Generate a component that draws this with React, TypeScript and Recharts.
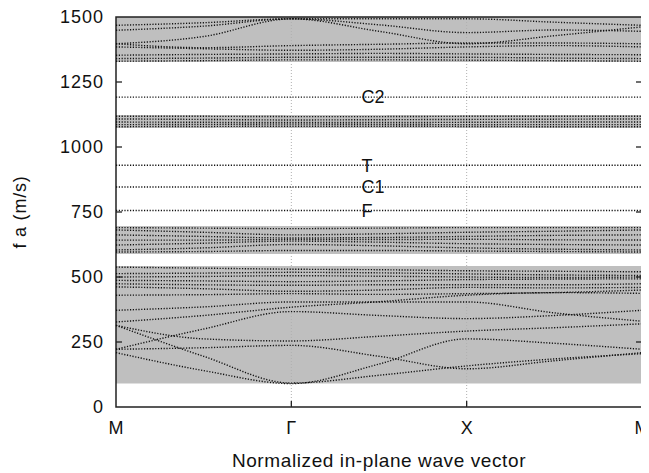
import {
  ComposedChart,
  Line,
  ReferenceArea,
  ReferenceDot,
  ReferenceLine,
  XAxis,
  YAxis,
} from "recharts";

const W = 641;
const H = 465;
const PLOT_LEFT = 108;
const PLOT_RIGHT = 634;
const PLOT_BOTTOM = 399;
const FONT = "'Liberation Sans', Arial, sans-serif";
const DOTS = "1.2 1.6";

// k path: M -> Gamma -> X -> M
const kPoints = [0, 0.5, 1, 1.5, 2, 2.5, 3];
const kTicks = [0, 1, 2, 3];
const kLabels = ["M", "Γ", "X", "M"];
const freqTicks = [0, 250, 500, 750, 1000, 1250, 1500];

// shaded pass bands (m/s)
const passBands = [
  [90, 542],
  [588, 696],
  [1073, 1123],
  [1327, 1500],
];

const lowBranches = [
  [209, 140, 90, 165, 262, 245, 222],
  [314, 195, 92, 122, 158, 185, 205],
  [222, 228, 237, 195, 147, 178, 209],
  [314, 262, 254, 272, 292, 305, 320],
  [222, 300, 367, 352, 340, 352, 372],
  [327, 352, 384, 405, 430, 440, 437],
  [372, 385, 404, 404, 404, 362, 330],
  [430, 432, 436, 433, 436, 440, 450],
  [462, 455, 445, 450, 460, 458, 460],
  [474, 470, 468, 470, 470, 470, 474],
  [487, 485, 482, 485, 490, 492, 493],
  [500, 502, 505, 503, 500, 498, 500],
  [513, 515, 518, 516, 512, 508, 506],
  [538, 534, 530, 528, 524, 522, 520],
];

const midBranches = [
  [690, 688, 686, 688, 690, 690, 690],
  [681, 672, 662, 666, 672, 676, 681],
  [662, 656, 650, 652, 656, 660, 662],
  [642, 642, 644, 644, 645, 643, 642],
  [623, 630, 638, 634, 628, 625, 623],
  [604, 612, 625, 620, 612, 607, 604],
  [596, 598, 602, 602, 600, 598, 596],
];

const upperBranches = [
  [1118, 1118, 1117, 1117, 1118, 1118, 1118],
  [1108, 1106, 1104, 1105, 1106, 1107, 1108],
  [1096, 1095, 1094, 1094, 1095, 1096, 1096],
  [1086, 1087, 1088, 1087, 1086, 1086, 1086],
  [1078, 1079, 1080, 1080, 1079, 1078, 1078],
];

const topBranches = [
  [1468, 1478, 1493, 1493, 1493, 1480, 1468],
  [1449, 1465, 1493, 1445, 1397, 1428, 1462],
  [1397, 1425, 1493, 1470, 1440, 1450, 1445],
  [1397, 1382, 1390, 1395, 1400, 1400, 1397],
  [1385, 1378, 1372, 1376, 1385, 1390, 1385],
  [1353, 1356, 1358, 1360, 1358, 1356, 1355],
  [1340, 1342, 1345, 1345, 1345, 1342, 1340],
  [1330, 1332, 1335, 1335, 1334, 1332, 1330],
];

// flat defect modes inside the gaps
const defectNames = ["C2", "T", "C1", "F"];
const defectFreqs = [1192, 930, 846, 756];
const LABEL_K = 1.4;

const branches = [...lowBranches, ...midBranches, ...upperBranches, ...topBranches];
const data = kPoints.map((k, i) => {
  const row: Record<string, number> = { k };
  branches.forEach((b, j) => {
    row["b" + j] = b[i];
  });
  return row;
});

const XTick = (props: any) => {
  const { x, payload, index } = props;
  return (
    <g>
      {index > 0 && index < kTicks.length - 1 && (
        <line x1={x} x2={x} y1={PLOT_BOTTOM} y2={PLOT_BOTTOM - 6} stroke="#222" strokeWidth={1.3} />
      )}
      <text
        x={x}
        y={PLOT_BOTTOM + 27}
        textAnchor="middle"
        fontSize={18}
        fontFamily={FONT}
        fill="#111"
      >
        {kLabels[kTicks.indexOf(payload.value)]}
      </text>
    </g>
  );
};

const YTick = (props: any) => {
  const { y, payload } = props;
  const inner = payload.value > 0 && payload.value < 1500;
  return (
    <g>
      {inner && (
        <>
          <line x1={PLOT_LEFT} x2={PLOT_LEFT + 6} y1={y} y2={y} stroke="#222" strokeWidth={1.3} />
          <line x1={PLOT_RIGHT - 6} x2={PLOT_RIGHT} y1={y} y2={y} stroke="#222" strokeWidth={1.3} />
        </>
      )}
      <text
        x={PLOT_LEFT - 12}
        y={y + 6}
        textAnchor="end"
        fontSize={18}
        fontFamily={FONT}
        letterSpacing={1}
        fill="#111"
      >
        {payload.value}
      </text>
    </g>
  );
};

export default function App() {
  return (
    <ComposedChart
      width={W}
      height={H}
      data={data}
      margin={{ top: 9, right: W - PLOT_RIGHT, bottom: 0, left: 0 }}
    >
      <XAxis
        dataKey="k"
        type="number"
        domain={[0, 3]}
        ticks={kTicks}
        height={H - PLOT_BOTTOM}
        axisLine={false}
        tickLine={false}
        tick={<XTick />}
        interval={0}
        label={{
          value: "Normalized in-plane wave vector",
          position: "insideBottom",
          offset: 6,
          style: { fontSize: 19, fontFamily: FONT, fill: "#111", letterSpacing: 0.6 },
        }}
      />
      <YAxis
        type="number"
        domain={[0, 1500]}
        ticks={freqTicks}
        width={PLOT_LEFT}
        axisLine={false}
        tickLine={false}
        tick={<YTick />}
        interval={0}
        label={{
          value: "f a (m/s)",
          angle: -90,
          position: "insideLeft",
          offset: 12,
          style: { fontSize: 18, fontFamily: FONT, fill: "#111", textAnchor: "middle", letterSpacing: 0.8 },
        }}
      />
      {passBands.map(([lo, hi], i) => (
        <ReferenceArea key={"band" + i} y1={lo} y2={hi} x1={0} x2={3} fill="#bfbfbf" fillOpacity={1} stroke="none" />
      ))}
      <ReferenceLine x={1} stroke="#b0b0b0" strokeDasharray="1 2" />
      <ReferenceLine x={2} stroke="#b0b0b0" strokeDasharray="1 2" />
      {defectFreqs.map((f, i) => (
        <ReferenceLine key={"mode" + i} y={f} stroke="#111" strokeWidth={1.4} strokeDasharray={DOTS} />
      ))}
      {branches.map((_, j) => (
        <Line
          key={"b" + j}
          dataKey={"b" + j}
          type="monotone"
          stroke="#111"
          strokeWidth={1.4}
          strokeDasharray={DOTS}
          dot={false}
          activeDot={false}
          isAnimationActive={false}
        />
      ))}
      {defectNames.map((name, i) => (
        <ReferenceDot
          key={"lab" + i}
          x={LABEL_K}
          y={defectFreqs[i]}
          r={0}
          fill="none"
          stroke="none"
          label={{
            value: name,
            position: "right",
            offset: 0,
            style: { fontSize: 18, fontFamily: FONT, fill: "#111" },
          }}
        />
      ))}
      <ReferenceArea x1={0} x2={3} y1={0} y2={1500} fill="none" stroke="#222" strokeWidth={1.5} />
    </ComposedChart>
  );
}
